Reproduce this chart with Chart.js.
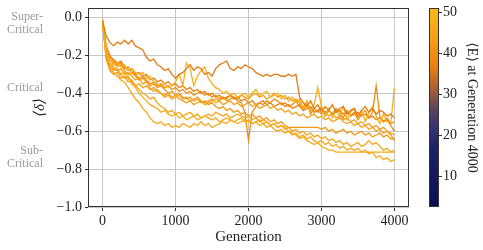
<!DOCTYPE html>
<html>
<head>
<meta charset="utf-8">
<script src="https://cdn.jsdelivr.net/npm/chart.js@4"></script>
<style>
  body { margin: 0; background: #fff; }
  canvas { display: block; }
</style>
</head>
<body>
<canvas id="deltaChart" width="483" height="250"></canvas>
<script>
// x grid of the runs (every 50 generations)
const generations = [
  0, 50, 100, 150, 200, 250, 300, 350, 400, 450, 500, 550, 600, 650, 700, 750, 800, 850, 900, 950,
  1000, 1050, 1100, 1150, 1200, 1250, 1300, 1350, 1400, 1450, 1500, 1550, 1600, 1650, 1700, 1750, 1800, 1850, 1900, 1950,
  2000, 2050, 2100, 2150, 2200, 2250, 2300, 2350, 2400, 2450, 2500, 2550, 2600, 2650, 2700, 2750, 2800, 2850, 2900, 2950,
  3000, 3050, 3100, 3150, 3200, 3250, 3300, 3350, 3400, 3450, 3500, 3550, 3600, 3650, 3700, 3750, 3800, 3850, 3900, 3950,
  4000
]

const run1 = [-0.02,-0.10,-0.13,-0.15,-0.13,-0.14,-0.12,-0.14,-0.12,-0.15,
  -0.16,-0.17,-0.21,-0.23,-0.22,-0.25,-0.26,-0.28,-0.27,-0.30,
  -0.32,-0.30,-0.29,-0.27,-0.25,-0.28,-0.26,-0.27,-0.30,-0.29,
  -0.31,-0.27,-0.25,-0.24,-0.23,-0.27,-0.28,-0.26,-0.27,-0.25,
  -0.26,-0.27,-0.29,-0.30,-0.31,-0.30,-0.31,-0.30,-0.30,-0.31,
  -0.31,-0.30,-0.31,-0.30,-0.42,-0.45,-0.47,-0.44,-0.48,-0.46,
  -0.50,-0.47,-0.49,-0.46,-0.50,-0.48,-0.47,-0.51,-0.49,-0.48,
  -0.52,-0.49,-0.47,-0.50,-0.48,-0.51,-0.49,-0.50,-0.52,-0.51,-0.53]
const run2 = [-0.01,-0.18,-0.22,-0.25,-0.24,-0.26,-0.25,-0.28,-0.27,-0.29,
  -0.30,-0.29,-0.32,-0.31,-0.34,-0.35,-0.36,-0.35,-0.37,-0.36,
  -0.34,-0.30,-0.36,-0.24,-0.27,-0.36,-0.31,-0.28,-0.26,-0.32,
  -0.35,-0.37,-0.38,-0.40,-0.39,-0.41,-0.40,-0.42,-0.41,-0.40,
  -0.42,-0.40,-0.38,-0.41,-0.40,-0.39,-0.42,-0.41,-0.40,-0.43,
  -0.41,-0.44,-0.42,-0.45,-0.43,-0.48,-0.44,-0.50,-0.46,-0.37,
  -0.47,-0.52,-0.48,-0.53,-0.49,-0.52,-0.47,-0.54,-0.50,-0.48,
  -0.53,-0.49,-0.55,-0.50,-0.47,-0.52,-0.56,-0.51,-0.55,-0.56,-0.37]
const run3 = [-0.03,-0.20,-0.25,-0.27,-0.28,-0.27,-0.30,-0.29,-0.31,-0.33,
  -0.32,-0.35,-0.34,-0.37,-0.39,-0.38,-0.40,-0.42,-0.41,-0.43,
  -0.42,-0.41,-0.43,-0.42,-0.44,-0.43,-0.42,-0.44,-0.45,-0.44,
  -0.43,-0.45,-0.44,-0.46,-0.45,-0.44,-0.46,-0.45,-0.47,-0.46,
  -0.45,-0.47,-0.46,-0.48,-0.47,-0.46,-0.48,-0.47,-0.49,-0.48,
  -0.50,-0.49,-0.51,-0.50,-0.52,-0.51,-0.53,-0.52,-0.51,-0.53,
  -0.52,-0.54,-0.53,-0.55,-0.54,-0.53,-0.55,-0.56,-0.55,-0.57,
  -0.56,-0.58,-0.57,-0.59,-0.58,-0.60,-0.59,-0.61,-0.60,-0.61,-0.62]
const run4 = [-0.02,-0.22,-0.27,-0.29,-0.31,-0.33,-0.34,-0.37,-0.40,-0.43,
  -0.45,-0.48,-0.50,-0.53,-0.55,-0.56,-0.55,-0.57,-0.56,-0.58,
  -0.57,-0.58,-0.56,-0.57,-0.58,-0.56,-0.57,-0.55,-0.57,-0.56,
  -0.58,-0.57,-0.56,-0.55,-0.56,-0.54,-0.55,-0.56,-0.55,-0.54,
  -0.55,-0.56,-0.55,-0.57,-0.56,-0.58,-0.57,-0.59,-0.60,-0.59,
  -0.61,-0.60,-0.62,-0.61,-0.63,-0.62,-0.64,-0.63,-0.65,-0.66,
  -0.65,-0.67,-0.66,-0.68,-0.67,-0.69,-0.68,-0.70,-0.69,-0.70,
  -0.69,-0.71,-0.70,-0.72,-0.71,-0.74,-0.73,-0.75,-0.74,-0.76,-0.75]
const run5 = [-0.02,-0.19,-0.24,-0.26,-0.28,-0.30,-0.29,-0.32,-0.35,-0.37,
  -0.40,-0.42,-0.44,-0.46,-0.47,-0.48,-0.50,-0.49,-0.51,-0.52,
  -0.51,-0.53,-0.52,-0.54,-0.53,-0.52,-0.54,-0.53,-0.52,-0.53,
  -0.54,-0.53,-0.55,-0.54,-0.53,-0.54,-0.55,-0.54,-0.53,-0.55,
  -0.54,-0.56,-0.55,-0.54,-0.56,-0.55,-0.57,-0.56,-0.58,-0.57,
  -0.58,-0.60,-0.61,-0.62,-0.64,-0.63,-0.65,-0.66,-0.67,-0.66,
  -0.68,-0.69,-0.70,-0.70,-0.71,-0.71,-0.71,-0.71,-0.71,-0.71,
  -0.71,-0.71,-0.71,-0.71,-0.71,-0.71,-0.71,-0.71,-0.71,-0.71,-0.71]
const run6 = [-0.03,-0.21,-0.26,-0.28,-0.27,-0.30,-0.32,-0.31,-0.34,-0.36,
  -0.38,-0.40,-0.41,-0.43,-0.42,-0.45,-0.47,-0.48,-0.50,-0.49,
  -0.51,-0.50,-0.52,-0.51,-0.50,-0.52,-0.51,-0.53,-0.52,-0.51,
  -0.52,-0.50,-0.51,-0.52,-0.51,-0.53,-0.52,-0.51,-0.52,-0.53,
  -0.52,-0.54,-0.53,-0.55,-0.54,-0.55,-0.57,-0.56,-0.58,-0.57,
  -0.59,-0.58,-0.60,-0.59,-0.61,-0.60,-0.62,-0.61,-0.63,-0.62,
  -0.64,-0.63,-0.65,-0.64,-0.66,-0.65,-0.67,-0.66,-0.68,-0.67,
  -0.66,-0.68,-0.67,-0.65,-0.67,-0.66,-0.68,-0.70,-0.69,-0.71,-0.70]
const run7 = [-0.02,-0.17,-0.22,-0.24,-0.26,-0.25,-0.28,-0.30,-0.29,-0.31,
  -0.33,-0.32,-0.34,-0.36,-0.35,-0.37,-0.36,-0.38,-0.40,-0.39,
  -0.41,-0.40,-0.42,-0.43,-0.42,-0.44,-0.43,-0.45,-0.44,-0.46,
  -0.45,-0.47,-0.48,-0.47,-0.49,-0.48,-0.50,-0.49,-0.51,-0.50,
  -0.52,-0.51,-0.53,-0.52,-0.54,-0.53,-0.55,-0.54,-0.56,-0.55,
  -0.57,-0.58,-0.58,-0.58,-0.58,-0.58,-0.58,-0.58,-0.58,-0.58,
  -0.59,-0.58,-0.60,-0.59,-0.61,-0.60,-0.59,-0.61,-0.60,-0.62,
  -0.61,-0.60,-0.62,-0.61,-0.63,-0.62,-0.61,-0.63,-0.62,-0.64,-0.64]
const run8 = [-0.01,-0.15,-0.20,-0.23,-0.25,-0.24,-0.27,-0.26,-0.29,-0.30,
  -0.32,-0.31,-0.33,-0.35,-0.34,-0.36,-0.35,-0.37,-0.36,-0.38,
  -0.37,-0.39,-0.38,-0.40,-0.39,-0.41,-0.40,-0.39,-0.41,-0.40,
  -0.42,-0.41,-0.43,-0.42,-0.44,-0.43,-0.42,-0.44,-0.45,-0.50,
  -0.65,-0.50,-0.47,-0.45,-0.46,-0.44,-0.45,-0.43,-0.44,-0.46,
  -0.45,-0.47,-0.46,-0.44,-0.47,-0.49,-0.45,-0.51,-0.48,-0.50,
  -0.47,-0.52,-0.49,-0.51,-0.48,-0.50,-0.53,-0.49,-0.52,-0.50,
  -0.54,-0.51,-0.49,-0.53,-0.50,-0.36,-0.52,-0.55,-0.53,-0.56,-0.55]
const run9 = [-0.02,-0.16,-0.21,-0.22,-0.24,-0.23,-0.26,-0.28,-0.27,-0.30,
  -0.29,-0.31,-0.30,-0.33,-0.32,-0.34,-0.33,-0.35,-0.34,-0.36,
  -0.35,-0.37,-0.36,-0.38,-0.37,-0.39,-0.38,-0.40,-0.39,-0.41,
  -0.40,-0.42,-0.41,-0.43,-0.42,-0.41,-0.43,-0.42,-0.44,-0.43,
  -0.45,-0.44,-0.46,-0.45,-0.44,-0.46,-0.45,-0.47,-0.46,-0.45,
  -0.47,-0.46,-0.48,-0.47,-0.46,-0.49,-0.48,-0.47,-0.50,-0.49,
  -0.48,-0.50,-0.49,-0.51,-0.50,-0.49,-0.51,-0.50,-0.52,-0.51,
  -0.50,-0.52,-0.51,-0.53,-0.52,-0.54,-0.53,-0.55,-0.54,-0.57,-0.60]
const run10 = [-0.03,-0.22,-0.28,-0.30,-0.29,-0.32,-0.31,-0.34,-0.33,-0.36,
  -0.35,-0.37,-0.36,-0.38,-0.37,-0.39,-0.40,-0.41,-0.40,-0.42,
  -0.41,-0.43,-0.44,-0.45,-0.44,-0.46,-0.45,-0.44,-0.46,-0.45,
  -0.44,-0.43,-0.44,-0.42,-0.43,-0.41,-0.42,-0.43,-0.41,-0.42,
  -0.43,-0.41,-0.40,-0.42,-0.41,-0.43,-0.42,-0.40,-0.42,-0.41,
  -0.43,-0.42,-0.44,-0.43,-0.45,-0.47,-0.46,-0.48,-0.50,-0.49,
  -0.51,-0.50,-0.52,-0.51,-0.53,-0.52,-0.54,-0.53,-0.55,-0.54,
  -0.56,-0.55,-0.57,-0.56,-0.58,-0.57,-0.59,-0.58,-0.60,-0.62,-0.65]

const runs = [run1, run2, run3, run4, run5, run6, run7, run8, run9, run10]
// <E> at generation 4000 for each run, sets the line colour
const finalEnergy = [36, 48, 44, 46, 47, 45, 42, 40, 37, 43]

const xTicks = [0, 1000, 2000, 3000, 4000]
const yTicks = [-1.0, -0.8, -0.6, -0.4, -0.2, 0.0]
const cbTicks = [10, 20, 30, 40, 50]
const regimeLabels = [["Super-", "Critical"], ["Critical"], ["Sub-", "Critical"]]
const regimeValues = [-0.03, -0.37, -0.74]

const cbMin = 2.4, cbMax = 51
const cmap = [
  [0.0, [10, 12, 80]],
  [0.3, [30, 34, 100]],
  [0.4, [52, 52, 118]],
  [0.5, [95, 70, 90]],
  [0.6, [175, 95, 50]],
  [0.7, [232, 125, 15]],
  [0.85, [245, 160, 25]],
  [1.0, [253, 185, 25]],
]

function colorAt(t) {
  t = Math.max(0, Math.min(1, t))
  for (let i = 1; i < cmap.length; i++) {
    if (t <= cmap[i][0]) {
      const [t0, c0] = cmap[i - 1]
      const [t1, c1] = cmap[i]
      const f = (t - t0) / (t1 - t0)
      const c = c0.map((v, k) => Math.round(v + (c1[k] - v) * f))
      return `rgb(${c[0]},${c[1]},${c[2]})`
    }
  }
  return "rgb(253,185,25)"
}
const colorFor = e => colorAt((e - cbMin) / (cbMax - cbMin))

const serif = "'Liberation Serif', 'DejaVu Serif', serif"
const minus = v => (v < 0 ? "\u2212" : "") + Math.abs(v).toFixed(1)

// tick padding would otherwise also pad the top/bottom of vertical axes
const noVPad = s => { s.paddingTop = 0; s.paddingBottom = 0 }

const framePlugin = {
  id: "frame",
  afterDatasetsDraw(chart) {
    const { ctx, chartArea: a, scales } = chart
    ctx.save()
    ctx.strokeStyle = "#333"
    ctx.lineWidth = 1
    ctx.strokeRect(a.left + 0.5, a.top + 0.5, a.right - a.left - 1, a.bottom - a.top - 1)

    // regime labels left of the y axis
    ctx.fillStyle = "#9a9a9a"
    ctx.font = "12px " + serif
    ctx.textAlign = "right"
    ctx.textBaseline = "middle"
    regimeLabels.forEach((lines, i) => {
      const yc = scales.y.getPixelForValue(regimeValues[i])
      lines.forEach((txt, j) => {
        ctx.fillText(txt, 43, yc + (j - (lines.length - 1) / 2) * 13)
      })
    })

    // colour bar
    const cb = scales.cb
    const x0 = 429, w = 10
    const top = cb.getPixelForValue(cbMax), bottom = cb.getPixelForValue(cbMin)
    const grad = ctx.createLinearGradient(0, bottom, 0, top)
    cmap.forEach(([t, c]) => grad.addColorStop(t, `rgb(${c[0]},${c[1]},${c[2]})`))
    ctx.fillStyle = grad
    ctx.fillRect(x0, top, w, bottom - top)
    ctx.strokeStyle = "#333"
    ctx.strokeRect(x0 + 0.5, top + 0.5, w - 1, bottom - top - 1)
    cbTicks.forEach(v => {
      const y = Math.round(cb.getPixelForValue(v)) + 0.5
      ctx.beginPath()
      ctx.moveTo(x0 + w, y)
      ctx.lineTo(x0 + w + 3, y)
      ctx.stroke()
    })
    ctx.restore()
  }
}

new Chart(document.getElementById("deltaChart"), {
  type: "line",
  data: {
    datasets: runs.map((run, k) => ({
      data: generations.map((g, i) => ({ x: g, y: run[i] })),
      borderColor: colorFor(finalEnergy[k]),
      borderWidth: 1.3,
      pointRadius: 0,
      tension: 0,
      fill: false,
    }))
  },
  options: {
    responsive: false,
    animation: false,
    layout: { padding: { top: 8, left: 0, right: 0, bottom: 0 } },
    plugins: { legend: { display: false }, tooltip: { enabled: false } },
    scales: {
      x: {
        type: "linear",
        min: -200,
        max: 4200,
        afterBuildTicks: s => { s.ticks = xTicks.map(v => ({ value: v })) },
        afterFit: s => { s.height = 43; s.paddingLeft = 0; s.paddingRight = 0 },
        grid: { color: "#c8c8c8", tickColor: "#333", tickLength: 4 },
        border: { display: false },
        ticks: { color: "#222", font: { family: serif, size: 14 }, padding: 2, maxRotation: 0, callback: v => String(v) },
        title: { display: true, text: "Generation", color: "#222", font: { family: serif, size: 15 }, padding: { top: 0, bottom: 4 } },
      },
      y: {
        min: -1.0,
        max: 0.05,
        afterBuildTicks: s => { s.ticks = yTicks.map(v => ({ value: v })) },
        afterFit: s => { s.width = 88; noVPad(s) },
        grid: { color: "#c8c8c8", tickColor: "#333", tickLength: 3 },
        border: { display: false },
        ticks: { color: "#222", font: { family: serif, size: 14 }, padding: 3, callback: v => minus(v) },
        title: { display: true, text: "\u27e8\u03b4\u27e9", color: "#222", font: { family: serif, size: 15, style: "italic" }, padding: { top: 31, bottom: 0 } },
      },
      cb: {
        type: "linear",
        position: "right",
        min: cbMin,
        max: cbMax,
        afterBuildTicks: s => { s.ticks = cbTicks.map(v => ({ value: v })) },
        afterFit: s => { s.width = 74; noVPad(s) },
        grid: { display: false, drawTicks: false },
        border: { display: false },
        ticks: { color: "#222", font: { family: serif, size: 14 }, padding: 34 },
        title: { display: true, text: "\u27e8E\u27e9 at Generation 4000", color: "#222", font: { family: serif, size: 14 }, padding: { top: 3, bottom: 0 } },
      },
    },
  },
  plugins: [framePlugin],
})
</script>
</body>
</html>
